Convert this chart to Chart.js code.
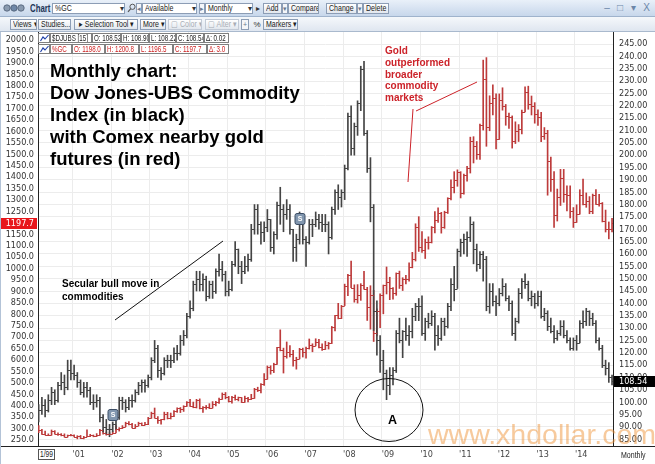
<!DOCTYPE html>
<html>
<head>
<meta charset="utf-8">
<script src="https://cdn.jsdelivr.net/npm/chart.js@4.4.1/dist/chart.umd.min.js"></script>
<style>
  body { margin:0; background:#fff; }
  #wrap { position:relative; width:655px; height:464px; overflow:hidden; font-family:"Liberation Sans",Arial,sans-serif; }
  #c { position:absolute; left:0; top:0; }
  #row1 { position:absolute; left:0; top:0; width:655px; height:16px; background:linear-gradient(#e9f0f9,#c7d7eb); border-bottom:1px solid #9fb3cc; }
  #row2 { position:absolute; left:0; top:17px; width:655px; height:14px; background:linear-gradient(#f5f8fb,#dfe6f0); border-bottom:1px solid #a9b9cd; }
  .el { position:absolute; height:11px; line-height:11px; font-size:9px; color:#222; white-space:nowrap; overflow:hidden; box-sizing:border-box; }
  .sx { display:inline-block; transform:scaleX(0.78); transform-origin:0 50%; }
  .bold { font-weight:bold; font-size:10px; color:#1d3557; }
  .inp { border:1px solid #8c9db5; background:#fff; line-height:9px; padding-left:2px; }
  .box { border:1px solid #555; background:#fff; line-height:9px; padding-left:1px; font-size:8.5px; }
  .btn { border:1px solid #8c9db5; background:linear-gradient(#ffffff,#e2e7ee); line-height:9px; padding-left:2px; }
  .sbtn { border:1px solid #8c9db5; background:#f4f6f9; line-height:9px; text-align:center; font-size:7px; color:#6a7a90; }
  .arr { text-align:center; font-size:8px; color:#333; }
  .dis { color:#a8adb5; border-color:#c2cad6; }
  .win { color:#6b86a8; font-size:10px; text-align:center; }
  .lg { position:absolute; height:10px; line-height:8px; font-size:9px; border:1px solid #7f7f7f; background:#fff; box-sizing:border-box; padding-left:1px; white-space:nowrap; overflow:hidden; color:#222; }
  .lg .sx { transform:scaleX(0.69); }
  .red { color:#cc1f1f; }
</style>
</head>
<body>
<div id="wrap">
  <canvas id="c" width="655" height="464"></canvas>
  <div id="row1"></div>
  <div id="row2"></div>
</div>
<script>
// axis ticks and labels
const yearTicks = [12, 24, 36, 48, 60, 72, 84, 96, 108, 120, 132, 144, 156, 168];
const yearLabels = ["'01", "'02", "'03", "'04", "'05", "'06", "'07", "'08", "'09", "'10", "'11", "'12", "'13", "'14"];
const leftTicks = [250, 300, 350, 400, 450, 500, 550, 600, 650, 700, 750, 800, 850, 900, 950, 1000,
  1050, 1100, 1150, 1200, 1250, 1300, 1350, 1400, 1450, 1500, 1550, 1600, 1650, 1700, 1750, 1800,
  1850, 1900, 1950, 2000];
const rightTicks = [85, 90, 95, 100, 105, 110, 115, 120, 125, 130, 135, 140, 145, 150, 155, 160, 165,
  170, 175, 180, 185, 190, 195, 200, 205, 210, 215, 220, 225, 230, 235, 240, 245];

// monthly bars, Jan 2000 .. Dec 2014
// Comex nearby gold (%GC), left axis
const gcOpen = [
  288,283,293,278,274,272,288,277,277,273,264,270,
  272,265,267,258,264,266,270,266,273,293,279,275,
  278,282,297,302,309,326,318,304,312,323,316,318,
  347,368,347,336,340,364,346,354,375,388,386,398,
  416,400,396,426,388,393,395,391,409,416,429,453,
  438,422,436,429,436,417,435,429,433,473,470,495,
  518,569,556,582,655,643,616,633,625,600,606,648,
  636,651,667,663,680,659,650,666,673,743,795,783,
  838,923,972,917,865,886,929,912,834,884,718,816,
  884,928,942,916,891,980,927,955,955,1008,1040,1182,
  1096,1081,1118,1115,1180,1212,1245,1181,1248,1307,1359,1386,
  1421,1332,1409,1439,1556,1536,1500,1628,1829,1620,1725,1746,
  1566,1738,1711,1669,1664,1560,1604,1610,1687,1773,1719,1711,
  1675,1663,1578,1595,1472,1393,1234,1312,1395,1327,1323,1253,
  1202,1240,1322,1284,1296,1250,1322,1282,1287,1210,1171,1175];
const gcHigh = [
  292,313,297,289,277,294,291,281,278,277,272,275,
  273,269,270,266,294,275,272,278,297,294,285,282,
  286,312,304,313,328,331,323,318,328,325,327,349,
  372,390,353,341,372,371,368,379,391,392,400,418,
  428,416,428,430,396,401,409,418,419,433,456,458,
  441,441,447,438,436,442,437,450,476,481,497,541,
  574,575,586,655,732,652,679,663,642,612,651,652,
  657,692,671,693,690,671,682,677,747,796,848,839,
  932,975,1033,929,930,934,988,918,925,905,824,889,
  928,1007,962,917,981,989,960,970,1025,1071,1196,1227,
  1162,1129,1139,1184,1249,1266,1246,1251,1310,1388,1424,1432,
  1424,1413,1447,1575,1577,1556,1632,1912,1923,1756,1804,1764,
  1764,1791,1718,1680,1668,1642,1630,1693,1795,1798,1755,1726,
  1694,1684,1617,1605,1488,1424,1348,1434,1434,1362,1362,1267,
  1279,1345,1392,1331,1315,1326,1346,1325,1289,1256,1204,1220];
const gcLow = [
  281,282,274,272,269,271,276,270,268,263,263,268,
  263,255,256,255,263,265,264,265,270,276,271,274,
  277,281,289,300,308,316,303,301,312,313,315,317,
  345,346,323,319,338,342,342,352,371,370,375,397,
  397,391,390,386,371,385,387,390,399,410,428,430,
  416,411,424,421,414,415,417,427,432,462,456,489,
  516,538,545,581,640,543,608,613,573,560,605,613,
  608,648,636,662,653,642,646,648,672,727,780,781,
  838,882,916,853,849,861,910,773,735,681,705,741,
  802,889,864,866,883,913,904,933,945,1003,1033,1075,
  1071,1044,1085,1112,1156,1202,1155,1176,1241,1300,1331,1360,
  1309,1325,1382,1418,1462,1478,1478,1606,1535,1603,1672,1523,
  1565,1693,1627,1613,1527,1547,1556,1589,1685,1697,1672,1636,
  1626,1555,1565,1321,1338,1180,1208,1276,1290,1252,1222,1180,
  1202,1238,1278,1268,1240,1240,1281,1273,1204,1160,1130,1160];
const gcClose = [
  283,293,278,274,272,288,277,277,273,264,270,272,
  265,267,258,264,266,270,266,273,293,279,275,278,
  282,297,302,309,326,318,304,312,323,316,318,347,
  368,347,336,340,364,346,354,375,388,386,398,416,
  400,396,426,388,393,395,391,409,416,429,453,438,
  422,436,429,436,417,435,429,433,473,470,495,518,
  569,556,582,655,643,616,633,625,600,606,648,636,
  651,667,663,680,659,650,666,673,743,795,783,838,
  923,972,917,865,886,929,912,834,884,718,816,884,
  928,942,916,891,980,927,955,955,1008,1040,1182,1096,
  1081,1118,1115,1180,1212,1245,1181,1248,1307,1359,1386,1421,
  1332,1409,1439,1556,1536,1500,1628,1829,1620,1725,1746,1566,
  1738,1711,1669,1664,1560,1604,1610,1687,1773,1719,1711,1675,
  1663,1578,1595,1472,1393,1234,1312,1395,1327,1323,1253,1202,
  1240,1322,1284,1296,1250,1322,1282,1287,1210,1171,1175,1197.7];

// Dow Jones-UBS Commodity Index ($DJUBS), right axis
const djOpen = [
  92,94,97,99,97,101,104,101,107,108,106,113,
  112,111,108,104,106,105,100,100,101,94,90,89,
  89,91,94,101,100,98,101,101,104,107,108,107,
  110,117,122,113,112,117,117,117,120,120,125,127,
  135,138,148,150,148,150,143,148,145,153,154,152,
  145,146,156,162,155,153,155,158,170,178,172,169,
  171,174,163,168,180,178,176,178,170,163,166,175,
  166,165,172,172,174,173,172,172,167,178,185,183,
  185,195,216,203,212,221,235,209,195,179,137,125,
  117,112,107,111,113,128,125,129,127,129,135,139,
  139,128,133,132,135,127,126,133,131,139,148,146,
  161,165,166,167,172,162,156,160,158,139,145,141,
  140,144,147,142,140,128,133,144,149,148,142,143,
  140,143,135,136,131,129,126,128,131,127,125,122,
  125,124,132,133,137,134,132,125,122,115,114,110];
const djHigh = [
  96,99,102,101,103,106,105,108,112,111,117,117,
  115,112,109,108,108,106,103,103,102,95,93,91,
  92,95,102,102,101,102,103,105,108,109,109,111,
  118,125,123,114,118,119,119,122,123,127,129,136,
  141,149,153,153,152,151,149,149,154,160,157,153,
  149,157,165,162,157,159,160,172,180,180,173,173,
  178,174,169,181,187,180,182,180,170,168,177,176,
  167,174,174,177,176,176,176,173,179,186,188,186,
  196,217,220,213,222,236,238,210,199,180,141,127,
  121,113,114,114,129,134,129,134,131,138,140,142,
  143,134,136,137,136,131,134,134,140,150,155,162,
  166,168,169,175,173,164,161,161,159,148,148,143,
  146,150,148,143,141,134,146,150,152,149,145,144,
  145,145,138,137,134,131,129,133,133,129,126,126,
  127,133,137,138,137,136,133,126,123,117,116,111];
const djLow = [
  90,92,95,94,96,99,99,100,105,103,105,109,
  109,106,103,102,102,99,97,98,92,88,87,86,
  88,89,93,97,96,97,98,100,103,104,104,106,
  109,116,110,109,111,114,114,116,117,119,123,126,
  134,137,145,145,145,141,142,142,144,151,149,143,
  143,145,155,152,148,152,153,157,168,168,164,165,
  169,161,160,166,172,169,174,168,157,157,164,164,
  155,164,167,171,170,169,169,160,166,176,178,179,
  182,194,200,200,208,218,208,193,173,129,119,112,
  105,101,103,107,112,124,118,125,123,126,133,133,
  127,125,130,131,121,123,125,127,130,137,141,146,
  159,160,159,165,156,153,154,149,137,136,139,135,
  139,143,141,137,127,125,132,142,146,141,139,138,
  139,134,133,129,128,124,125,127,126,124,121,121,
  121,124,130,131,131,131,124,121,114,111,108,107];
const djClose = [
  94,97,99,97,101,104,101,107,108,106,113,112,
  111,108,104,106,105,100,100,101,94,90,89,89,
  91,94,101,100,98,101,101,104,107,108,107,110,
  117,122,113,112,117,117,117,120,120,125,127,135,
  138,148,150,148,150,143,148,145,153,154,152,145,
  146,156,162,155,153,155,158,170,178,172,169,171,
  174,163,168,180,178,176,178,170,163,166,175,166,
  165,172,172,174,173,172,172,167,178,185,183,185,
  195,216,203,212,221,235,209,195,179,137,125,117,
  112,107,111,113,128,125,129,127,129,135,139,139,
  128,133,132,135,127,126,133,131,139,148,146,161,
  165,166,167,172,162,156,160,158,139,145,141,140,
  144,147,142,140,128,133,144,149,148,142,143,140,
  143,135,136,131,129,126,128,131,127,125,122,125,
  124,132,133,137,134,132,125,122,115,114,110,108.54];

const NARROW = '"Liberation Sans Narrow","DejaVu Sans Condensed","Liberation Sans",sans-serif';
const djColor = '#444444';
const gcColor = '#bd3b3b';
const noteRed = '#cc2229';

// bar sits in the middle of its month, year ticks on the month boundary
const months = gcClose.map((_, i) => i + 0.5);

function ui(left, top, width, html, cls, plain) {
  const d = document.createElement('div');
  d.className = 'el ' + (cls || '');
  d.style.left = left + 'px';
  d.style.top = top + 'px';
  if (width) d.style.width = width + 'px';
  d.innerHTML = plain ? html : '<span class="sx">' + html + '</span>';
  document.getElementById('wrap').appendChild(d);
  return d;
}
function legend(left, top, width, html, red, plain) {
  const d = document.createElement('div');
  d.className = 'lg' + (red ? ' red' : '');
  d.style.left = left + 'px';
  d.style.top = top + 'px';
  d.style.width = width + 'px';
  d.innerHTML = plain ? html : '<span class="sx">' + html + '</span>';
  document.getElementById('wrap').appendChild(d);
}

// toolbar, row 1
ui(3, 3, 26, '<svg width="26" height="10"><circle cx="4" cy="5" r="3.2" fill="#8a9bb0" stroke="#4c5d74" stroke-width="0.8"/><circle cx="11" cy="5" r="3.2" fill="#6f88a8" stroke="#4c5d74" stroke-width="0.8"/><circle cx="18" cy="5" r="3.2" fill="#8a9bb0" stroke="#4c5d74" stroke-width="0.8"/></svg>', '', true);
ui(30, 3, 22, 'Chart', 'bold');
ui(52, 3, 73, '%GC', 'inp');
ui(118, 3, 7, '▾', 'arr', true);
ui(127, 3, 9, '<svg width="9" height="10"><circle cx="5.5" cy="3.8" r="2.6" fill="none" stroke="#555" stroke-width="1"/><line x1="3.6" y1="5.8" x2="1" y2="8.8" stroke="#555" stroke-width="1.2"/></svg>', '', true);
ui(136, 3, 6, '◂', 'sbtn', true);
ui(142, 3, 55, 'Available', 'inp');
ui(190, 3, 7, '▾', 'arr', true);
ui(199, 3, 6, '▸', 'sbtn', true);
ui(205, 3, 48, 'Monthly', 'inp');
ui(246, 3, 7, '▾', 'arr', true);
ui(255, 3, 6, '▸', 'arr', true);
ui(263, 3, 19, 'Add', 'btn');
ui(282, 3, 6, '▾', 'sbtn', true);
ui(288, 3, 31, 'Compare', 'btn');
ui(326, 3, 31, 'Change', 'btn');
ui(357, 3, 6, '▾', 'sbtn', true);
ui(363, 3, 26, 'Delete', 'btn');
ui(602, 2, 10, '–', 'win', true);
ui(615, 2, 10, '□', 'win', true);
ui(628, 2, 10, '▾', 'win', true);
ui(641, 2, 11, 'X', 'win', true);

// toolbar, row 2
ui(10, 19, 27, 'Views ▾', 'btn');
ui(38, 19, 33, 'Studies...', 'btn');
ui(74, 19, 64, '&nbsp;&#x25B8; Selection Tool ▾', 'btn');
ui(140, 19, 26, 'More ▾', 'btn');
ui(168, 19, 34, '&#x25A2; Color ▾', 'btn dis');
ui(205, 19, 34, '&#x25A2; Alter ▾', 'btn dis');
ui(241, 19, 8, '+', 'sbtn', true);
ui(253, 19, 8, '%', 'arr', true);
ui(263, 19, 35, 'Markers ▾', 'btn');

// data window boxes
const icon = '<svg width="9" height="8"><polyline points="0.5,7 3,3 5,5 8.5,1" fill="none" stroke="#1c3ea8" stroke-width="1.1"/></svg>';
legend(38, 33, 12, icon, false, true);
legend(50, 33, 42, '$DJUBS [15]');
legend(92, 33, 29, 'O: 108.52');
legend(121, 33, 28, 'H: 108.90');
legend(149, 33, 27, 'L: 108.22');
legend(176, 33, 28, 'C: 108.54');
legend(204, 33, 25, 'Δ: 0.02');
legend(38, 44, 12, icon, false, true);
legend(50, 44, 22, '%GC', true);
legend(72, 44, 33, 'O: 1198.0', true);
legend(105, 44, 34, 'H: 1200.8', true);
legend(139, 44, 34, 'L: 1196.5', true);
legend(173, 44, 34, 'C: 1197.7', true);
legend(207, 44, 22, 'Δ: 3.0', true);

// bottom strip
ui(38, 449, 17, '1/99', 'box');
ui(621, 450, 34, 'Monthly', '');

const ohlcTicks = {
  id: 'ohlcTicks',
  afterDatasetsDraw(chart) {
    const { ctx, chartArea: a } = chart;
    ctx.save();
    ctx.beginPath();
    ctx.rect(a.left, a.top, a.right - a.left, a.bottom - a.top);
    ctx.clip();
    [[0, djOpen, djClose, 'yR', djColor], [1, gcOpen, gcClose, 'yL', gcColor]].forEach(([di, op, cl, ax, col]) => {
      const sc = chart.scales[ax];
      ctx.strokeStyle = col;
      ctx.lineWidth = 1;
      ctx.beginPath();
      chart.getDatasetMeta(di).data.forEach((bar, i) => {
        const yo = Math.round(sc.getPixelForValue(op[i])) + 0.5;
        const yc = Math.round(sc.getPixelForValue(cl[i])) + 0.5;
        ctx.moveTo(bar.x - 2.5, yo); ctx.lineTo(bar.x, yo);
        ctx.moveTo(bar.x, yc); ctx.lineTo(bar.x + 2.5, yc);
      });
      ctx.stroke();
    });
    ctx.restore();
  }
};

function marker(ctx, x, y) {
  ctx.save();
  ctx.fillStyle = '#8196ae';
  ctx.strokeStyle = '#3c4e66';
  ctx.lineWidth = 1;
  ctx.beginPath();
  ctx.roundRect(x - 5, y - 5.5, 10, 11, 2);
  ctx.fill();
  ctx.stroke();
  ctx.fillStyle = '#ffffff';
  ctx.font = 'bold 7px "Liberation Sans"';
  ctx.textAlign = 'center';
  ctx.textBaseline = 'middle';
  ctx.fillText('S', x, y + 0.5);
  ctx.restore();
}

const notes = {
  id: 'notes',
  afterDraw(chart) {
    const { ctx, chartArea: a } = chart;
    ctx.save();
    // frame lines
    ctx.strokeStyle = '#222';
    ctx.lineWidth = 1;
    ctx.beginPath();
    ctx.moveTo(0, a.bottom + 0.5); ctx.lineTo(655, a.bottom + 0.5);
    ctx.stroke();
    ctx.strokeStyle = '#b3c3d7';
    ctx.beginPath();
    ctx.moveTo(0.5, 32); ctx.lineTo(0.5, 464);
    ctx.stroke();

    // title block
    ctx.fillStyle = '#000';
    ctx.font = 'bold 18.5px "Liberation Sans"';
    ctx.textAlign = 'left';
    ctx.textBaseline = 'alphabetic';
    ['Monthly chart:', 'Dow Jones-UBS Commodity', 'Index (in black)', 'with Comex nearby gold', 'futures (in red)']
      .forEach((t, i) => ctx.fillText(t, 50, 77 + i * 22));

    // secular bull note
    ctx.font = 'bold 10px "Liberation Sans"';
    ctx.fillText('Secular bull move in', 62, 287);
    ctx.fillText('commodities', 62, 300);
    ctx.beginPath();
    ctx.moveTo(115, 320); ctx.lineTo(223, 241);
    ctx.strokeStyle = '#111';
    ctx.stroke();

    // gold note
    ctx.fillStyle = noteRed;
    ['Gold', 'outperformed', 'broader', 'commodity', 'markets'].forEach((t, i) => ctx.fillText(t, 385, 54 + i * 11.8));
    ctx.strokeStyle = noteRed;
    ctx.beginPath();
    ctx.moveTo(408, 182); ctx.lineTo(413, 109);
    ctx.moveTo(416, 111); ctx.lineTo(477, 82);
    ctx.stroke();

    // circle A
    ctx.strokeStyle = '#111';
    ctx.beginPath();
    ctx.ellipse(389, 410, 34, 31.5, 0, 0, Math.PI * 2);
    ctx.stroke();
    ctx.fillStyle = '#000';
    ctx.font = 'bold 12.5px "Liberation Sans"';
    ctx.textAlign = 'center';
    ctx.fillText('A', 392.5, 424);

    marker(ctx, 113, 415);
    marker(ctx, 300, 219);

    // last price tags
    ctx.font = '9px ' + NARROW;
    ctx.textBaseline = 'middle';
    const yG = chart.scales.yL.getPixelForValue(gcClose[gcClose.length - 1]);
    ctx.fillStyle = '#e8161b';
    ctx.fillRect(1, Math.round(yG) - 5, 36, 11);
    ctx.fillStyle = '#fff';
    ctx.textAlign = 'right';
    ctx.fillText(gcClose[gcClose.length - 1].toFixed(1), 34, Math.round(yG) + 0.5);
    const yD = chart.scales.yR.getPixelForValue(djClose[djClose.length - 1]);
    ctx.fillStyle = '#000';
    ctx.fillRect(614, Math.round(yD) - 5, 41, 11);
    ctx.fillStyle = '#fff';
    ctx.textAlign = 'left';
    ctx.fillText(djClose[djClose.length - 1].toFixed(2), 619, Math.round(yD) + 0.5);

    // watermark
    ctx.fillStyle = 'rgba(240,150,60,0.5)';
    ctx.font = '28.5px "Liberation Sans"';
    ctx.textBaseline = 'alphabetic';
    ctx.fillText('www.xhdollar.com', 428, 444);
    ctx.restore();
  }
};

const axisFont = { family: NARROW, size: 9 };

new Chart(document.getElementById('c'), {
  type: 'bar',
  data: {
    datasets: [
      {
        label: '$DJUBS',
        data: months.map((m, i) => ({ x: m, y: [djLow[i], djHigh[i]] })),
        yAxisID: 'yR',
        backgroundColor: djColor,
        barThickness: 1,
        grouped: false,
        clip: 0
      },
      {
        label: '%GC',
        data: months.map((m, i) => ({ x: m, y: [gcLow[i], gcHigh[i]] })),
        yAxisID: 'yL',
        backgroundColor: gcColor,
        barThickness: 1,
        grouped: false,
        clip: 0
      }
    ]
  },
  options: {
    responsive: false,
    animation: false,
    events: [],
    layout: { padding: { top: 32, left: 0, right: 0, bottom: 0 } },
    plugins: { legend: { display: false }, tooltip: { enabled: false } },
    scales: {
      x: {
        type: 'linear',
        min: 1.29,
        max: 179.8,
        offset: false,
        afterBuildTicks: s => { s.ticks = yearTicks.map(v => ({ value: v })); },
        afterFit: s => { s.height = 18; },
        ticks: { autoSkip: false, maxRotation: 0, align: 'start', padding: 3, color: '#444', font: axisFont,
          callback: (v, i) => yearLabels[i] },
        grid: { color: '#ececec', drawTicks: false, offset: false },
        border: { color: '#222' }
      },
      yL: {
        position: 'left',
        min: 223.8,
        max: 2035,
        afterBuildTicks: s => { s.ticks = leftTicks.map(v => ({ value: v })); },
        afterFit: s => { s.width = 38; },
        ticks: { autoSkip: false, padding: 4, color: '#333', font: axisFont, callback: v => v.toFixed(1) },
        grid: { display: false, drawTicks: false },
        border: { color: '#222' }
      },
      yR: {
        position: 'right',
        min: 82.25,
        max: 249.86,
        afterBuildTicks: s => { s.ticks = rightTicks.map(v => ({ value: v })); },
        afterFit: s => { s.width = 42; },
        ticks: { autoSkip: false, padding: 6, color: '#333', font: axisFont, callback: v => v.toFixed(2) },
        grid: { color: '#ececec', drawTicks: false },
        border: { color: '#222' }
      }
    }
  },
  plugins: [ohlcTicks, notes]
});
</script>
</body>
</html>
